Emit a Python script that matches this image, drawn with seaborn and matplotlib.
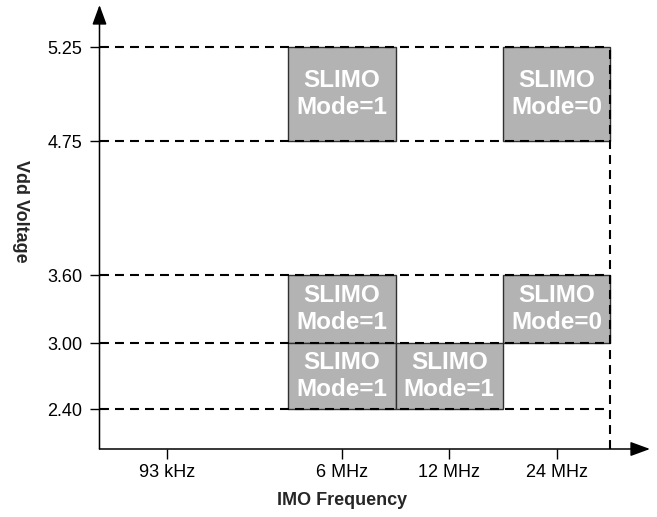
import numpy as np
import seaborn as sns
import matplotlib
matplotlib.use('Agg')
import matplotlib.pyplot as plt

# data
freq_labels = ['93 kHz', '6 MHz', '12 MHz', '24 MHz']
volt_levels = [2.40, 3.00, 3.60, 4.75, 5.25]

box_freq = ['6 MHz', '24 MHz', '6 MHz', '24 MHz', '6 MHz', '12 MHz']
box_vmin = [4.75, 4.75, 3.00, 3.00, 2.40, 2.40]
box_vmax = [5.25, 5.25, 3.60, 3.60, 3.00, 3.00]
box_mode = [1, 0, 1, 0, 1, 1]

# layout: column centres (in box widths) and drawn height of each voltage level
freq_x = [0, 1.63, 2.63, 3.63]
level_pos = [40, 106, 174, 308, 402]
lvl_ext = [2.036] + volt_levels + [5.473]
pos_ext = [0] + level_pos + [444]


def to_pos(v):
    return np.interp(v, lvl_ext, pos_ext)


def from_pos(p):
    return np.interp(p, pos_ext, lvl_ext)


sns.set_style('white')
plt.rcParams['font.family'] = ['Liberation Sans', 'DejaVu Sans']

fig = plt.figure(figsize=(6.57, 5.17), dpi=100)
ax = fig.add_axes([99.5 / 657, 68 / 517, 550.5 / 657, 444 / 517])
ax.set_yscale('function', functions=(to_pos, from_pos))
ax.set_xlim(-0.629, 4.50)
ax.set_ylim(lvl_ext[0], lvl_ext[-1])

xmap = dict(zip(freq_labels, freq_x))
bx = [xmap[f] for f in box_freq]
heights = [hi - lo for lo, hi in zip(box_vmin, box_vmax)]
ax.bar(bx, heights, bottom=box_vmin, width=1.0, color='#b3b3b3',
       edgecolor='#303030', linewidth=1.0, zorder=2)

for x, lo, hi, m in zip(bx, box_vmin, box_vmax, box_mode):
    mid = from_pos((to_pos(lo) + to_pos(hi)) / 2)
    ax.text(x, mid, f'SLIMO\nMode={m}', ha='center', va='center',
            color='white', fontsize=17.5, fontweight='bold',
            linespacing=1.25, zorder=4)

right_edge = max(freq_x) + 0.5
ax.hlines(volt_levels, -0.629, right_edge, colors='black', lw=1.5,
          linestyles=(0, (4.3, 2.9)), zorder=3)
ax.vlines(right_edge, lvl_ext[0], max(volt_levels), colors='black', lw=1.5,
          linestyles=(0, (4.3, 2.9)), zorder=3)

sns.despine(ax=ax, left=True, bottom=True)
arrow = dict(arrowstyle='-|>,head_length=0.6,head_width=0.22', color='black',
             lw=1.1, mutation_scale=20, shrinkA=0, shrinkB=0)
ax.annotate('', xy=(1, 0), xytext=(0, 0), xycoords='axes fraction',
            arrowprops=arrow, annotation_clip=False)
ax.annotate('', xy=(0, 1), xytext=(0, 0), xycoords='axes fraction',
            arrowprops=arrow, annotation_clip=False)

ax.set_xticks(freq_x, freq_labels)
ax.set_yticks(volt_levels, [f'{v:.2f}' for v in volt_levels])
ax.minorticks_off()
ax.tick_params(axis='both', direction='out', length=7, width=1.0,
               color='black', labelsize=13, labelcolor='black')
ax.tick_params(axis='x', pad=3.5, bottom=True)
ax.tick_params(axis='y', pad=5.5, left=True)

ax.set_xlabel('IMO Frequency', fontsize=13, fontweight='bold')
ax.xaxis.set_label_coords(0.4405, -0.097)
ax.set_ylabel('Vdd Voltage', fontsize=13, fontweight='bold', rotation=270,
              ha='center', va='center')
ax.yaxis.set_label_coords(-0.144, 0.536)

fig.savefig('out.png', dpi=100)
